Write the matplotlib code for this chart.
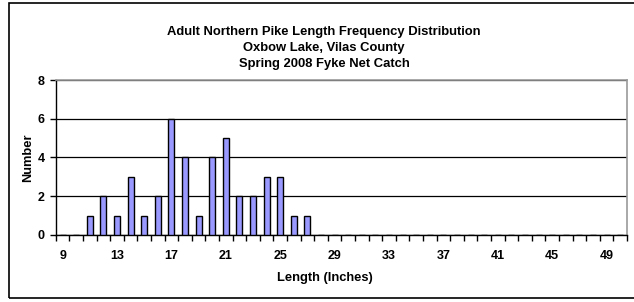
import matplotlib
matplotlib.use("Agg")
import matplotlib.pyplot as plt
import numpy as np

plt.rcParams["font.family"] = ["Liberation Sans", "DejaVu Sans"]
plt.rcParams["font.weight"] = "bold"

lengths = list(range(9, 51))
counts = [0, 0, 1, 2, 1, 3, 1, 2, 6, 4, 1, 4, 5, 2, 2, 3, 3, 1, 1] + [0] * 23
tick_labels = [str(v) for v in range(9, 51, 4)]
title = "Adult Northern Pike Length Frequency Distribution\nOxbow Lake, Vilas County\nSpring 2008 Fyke Net Catch"

fig = plt.figure(figsize=(6.34, 3.02), dpi=100)
ax = fig.add_axes([0.088, 0.222, 0.901, 0.513])

x = np.arange(len(lengths))
ax.bar(x, counts, width=0.45, color="#9999FF", edgecolor="black", linewidth=1.0, zorder=3)

ax.set_xlim(-0.5, len(lengths) - 0.5)
ax.set_ylim(0, 8)
ax.set_yticks([0, 2, 4, 6, 8])
ax.set_yticklabels(["0", "2", "4", "6", "8"], fontsize=9, fontweight="bold")
ax.set_xticks(np.arange(0, len(lengths), 4))
ax.set_xticklabels(tick_labels, fontsize=9, fontweight="bold")
ax.set_xticks(np.arange(-0.5, len(lengths)), minor=True)
ax.tick_params(axis="x", which="major", length=0, pad=11)
ax.tick_params(axis="x", which="minor", length=4, width=1)
ax.tick_params(axis="y", length=4, width=1, pad=4)

ax.grid(axis="y", color="black", linewidth=0.9, zorder=0)
for side in ["top", "right"]:
    ax.spines[side].set_color("#999999")
    ax.spines[side].set_linewidth(1.2)
for side in ["left", "bottom"]:
    ax.spines[side].set_color("black")
    ax.spines[side].set_linewidth(1.0)

# axis titles placed relative to the chart area, like the original
fig.text(0.512, 0.079, "Length (Inches)", ha="center", va="center", fontsize=9.3, fontweight="bold")
fig.text(0.044, 0.478, "Number", ha="center", va="center", rotation=90, fontsize=9.3, fontweight="bold")

fig.text(0.511, 0.840, title, ha="center", va="center", fontsize=9.4, fontweight="bold", linespacing=1.45)

frame = plt.Rectangle((0.0142, 0.013), 1.0, 0.977, transform=fig.transFigure,
                      fill=False, edgecolor="black", linewidth=1.2)
fig.patches.append(frame)

fig.savefig("out.png", dpi=100)
